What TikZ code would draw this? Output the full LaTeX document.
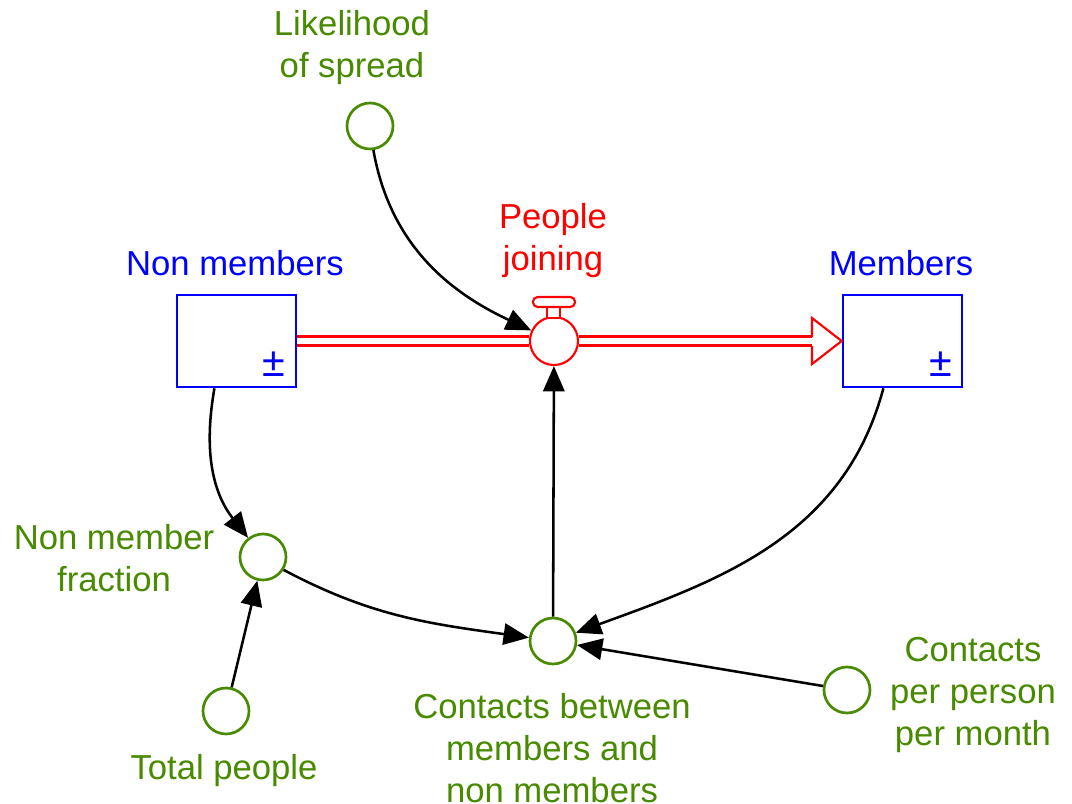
\documentclass[tikz,border=0pt]{standalone}
\usepackage{fontspec}
\setmainfont{Liberation Sans}
\usetikzlibrary{arrows.meta,calc}
\definecolor{auxgreen}{RGB}{72,138,0}
\definecolor{stockblue}{RGB}{0,0,255}
\definecolor{flowred}{RGB}{255,0,0}
\begin{document}
\begin{tikzpicture}[x=0.75pt,y=-0.75pt,
  every node/.style={font=\fontsize{26}{31.5}\selectfont},
  stockbox/.style={draw=stockblue,line width=2pt,fill=white,minimum width=89.25pt,minimum height=69pt,inner sep=0pt},
  auxvar/.style={circle,draw=auxgreen,line width=2pt,fill=white,minimum size=34.5pt,inner sep=0pt},
  valvecirc/.style={circle,draw=flowred,line width=1.6pt,fill=white,minimum size=36pt,inner sep=0pt},
  auxlabel/.style={text=auxgreen,align=center,inner sep=0pt},
  stocklabel/.style={text=stockblue,align=center,inner sep=0pt},
  pmsign/.style={text=stockblue,inner sep=0pt,font=\fontsize{31}{31}\selectfont},
  flowlabel/.style={text=flowred,align=center,inner sep=0pt},
  link/.style={line width=1.9pt,-{Triangle[length=19pt,width=16pt]}},
  pipe/.style={draw=flowred,line width=1.6pt,double=white,double distance=5.2pt}
]
\useasboundingbox (0,0) rectangle (1072,804);

% stocks
\node[stockbox] (nm) at (236.5,341) {};
\node[stockbox] (mem) at (902.5,341) {};
\node[pmsign] (nmpm) at (274,364) {±};
\node[pmsign] (mempm) at (941,364) {±};
\node[stocklabel] (nmlab) at (235,263) {Non members};
\node[stocklabel] (memlab) at (901,263) {Members};

% valve
\node[valvecirc] (valve) at (554,341) {};
\draw[flowred,line width=1.6pt,fill=white] (547,307) rectangle (560,318);
\draw[flowred,line width=1.6pt,fill=white,rounded corners=3.5pt] (533,297) rectangle (575,307);
\node[flowlabel] (pjlab) at (553,241) {People\\joining};

% pipes
\coordinate (abase) at (812,341);
\draw[pipe] (nm.east) -- (valve.west);
\draw[pipe] (valve.east) -- (abase);
\fill[white] (812,318) -- (mem.west) -- (812,364) -- cycle;
\draw[flowred,line width=1.6pt,line join=miter] (812,337) -- (812,318) -- (mem.west) -- (812,364) -- (812,346);

% auxiliaries
\node[auxvar] (lik) at (370,126) {};
\node[auxlabel] (liklab) at (352,47.5) {Likelihood\\of spread};
\node[auxvar] (nmf) at (263,557) {};
\node[auxlabel] (nmflab) at (114,558) {Non member\\fraction};
\node[auxvar] (tp) at (226,711) {};
\node[auxlabel] (tplab) at (224,771) {Total people};
\node[auxvar] (cb) at (553,641) {};
\node[auxlabel] (cblab) at (552,748.5) {Contacts between\\members and\\non members};
\node[auxvar] (cpp) at (847,690) {};
\node[auxlabel] (cpplab) at (973,695) {Contacts\\per person\\per month};

% links
\draw[link] (lik.-82) to[out=-80,in=155] (valve.155);
\draw[link] (nm.245) to[out=-100,in=128] (nmf.128);
\draw[link] (tp) -- (nmf);
\draw[link] (nmf.-32) to[out=-28,in=172] (cb.172);
\draw[link] (mem.248) to[out=-105,in=20] (cb.20);
\draw[link] (cpp) -- (cb);
\draw[link] (cb) -- (valve);
\end{tikzpicture}
\end{document}
